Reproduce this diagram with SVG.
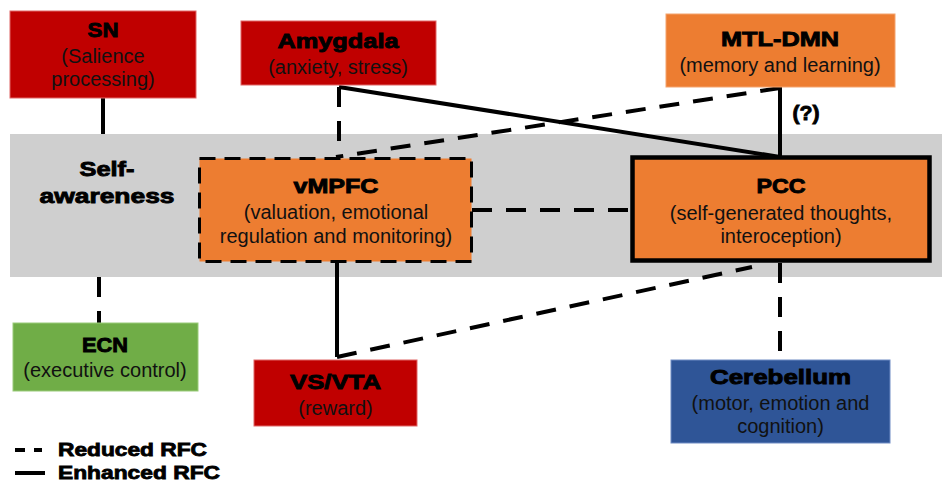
<svg xmlns="http://www.w3.org/2000/svg" width="942" height="483" viewBox="0 0 942 483">
  <style>
    .t { font-family: "Liberation Sans", Arial, sans-serif; font-weight: bold; font-size: 21px; fill: #000; stroke: #000; stroke-width: 0.9; text-anchor: middle; }
    .s { font-family: "Liberation Sans", Arial, sans-serif; font-size: 20px; fill: #111; text-anchor: middle; }
    .lg { font-family: "Liberation Sans", Arial, sans-serif; font-weight: bold; font-size: 18px; fill: #000; stroke: #000; stroke-width: 0.8; }
    .red { fill: #C00000; stroke: #E06666; stroke-width: 1; }
    .orange { fill: #ED7D31; stroke: #F4A46E; stroke-width: 1; }
    .green { fill: #70AD47; stroke: #9ACB7A; stroke-width: 1; }
    .blue { fill: #2F5597; stroke: #6F8CC4; stroke-width: 1; }
    .solid { fill: none; stroke: #000; stroke-width: 4; }
    .dash { fill: none; stroke: #000; stroke-width: 4; stroke-dasharray: 20 14; }
  </style>

  <!-- self-awareness band -->
  <rect id="band" x="10" y="134" width="932" height="143" fill="#CFCFCF"/>

  <!-- connectors -->
  <g id="connectors">
    <line class="solid" x1="103" y1="98" x2="103" y2="134"/>
    <line class="dash" x1="99" y1="277" x2="99" y2="323"/>
    <line class="dash" x1="339" y1="87" x2="339" y2="157"/>
    <line class="solid" x1="339" y1="87" x2="780" y2="157"/>
    <line class="solid" x1="780" y1="87" x2="780" y2="157"/>
    <line class="dash" x1="780" y1="88" x2="336" y2="157"/>
    <line class="dash" x1="472" y1="210" x2="631" y2="210"/>
    <line class="solid" x1="337" y1="263" x2="337" y2="357"/>
    <line class="dash" x1="337" y1="357" x2="752" y2="267"/>
    <line class="dash" x1="780" y1="263" x2="780" y2="360"/>
  </g>

  <g id="self-awareness">
    <text class="t" x="107" y="176" textLength="55" lengthAdjust="spacingAndGlyphs">Self-</text>
    <text class="t" x="107" y="203" textLength="135" lengthAdjust="spacingAndGlyphs">awareness</text>
  </g>

  <g id="sn">
    <rect class="red" x="10" y="11" width="186" height="87"/>
    <text class="t" x="103" y="37" textLength="31" lengthAdjust="spacingAndGlyphs">SN</text>
    <text class="s" x="103" y="63">(Salience</text>
    <text class="s" x="103" y="86">processing)</text>
  </g>

  <g id="amygdala">
    <rect class="red" x="241" y="21" width="195" height="64"/>
    <text class="t" x="338" y="48" textLength="121" lengthAdjust="spacingAndGlyphs">Amygdala</text>
    <text class="s" x="338" y="74">(anxiety, stress)</text>
  </g>

  <g id="mtl-dmn">
    <rect class="orange" x="666" y="14" width="229" height="73"/>
    <text class="t" x="780" y="46" textLength="118" lengthAdjust="spacingAndGlyphs">MTL-DMN</text>
    <text class="s" x="780" y="72">(memory and learning)</text>
    <text class="t" x="806" y="120" font-size="18" textLength="27" lengthAdjust="spacingAndGlyphs">(?)</text>
  </g>

  <g id="vmpfc">
    <rect x="199.5" y="158.5" width="272" height="103" fill="#ED7D31" stroke="#000" stroke-width="3" stroke-dasharray="16 9"/>
    <text class="t" x="336" y="193" textLength="85" lengthAdjust="spacingAndGlyphs">vMPFC</text>
    <text class="s" x="336" y="219">(valuation, emotional</text>
    <text class="s" x="336" y="243">regulation and monitoring)</text>
  </g>

  <g id="pcc">
    <rect x="632.5" y="157.5" width="297" height="103" fill="#ED7D31" stroke="#000" stroke-width="4.5"/>
    <text class="t" x="781" y="193" textLength="49" lengthAdjust="spacingAndGlyphs">PCC</text>
    <text class="s" x="781" y="220">(self-generated thoughts,</text>
    <text class="s" x="781" y="243">interoception)</text>
  </g>

  <g id="ecn">
    <rect class="green" x="13" y="323" width="185" height="68"/>
    <text class="t" x="105" y="352" textLength="46" lengthAdjust="spacingAndGlyphs">ECN</text>
    <text class="s" x="105" y="377">(executive control)</text>
  </g>

  <g id="vs-vta">
    <rect class="red" x="254" y="360" width="163" height="66"/>
    <text class="t" x="335.5" y="389" textLength="91" lengthAdjust="spacingAndGlyphs">VS/VTA</text>
    <text class="s" x="335.5" y="415">(reward)</text>
  </g>

  <g id="cerebellum">
    <rect class="blue" x="671" y="360" width="219" height="83"/>
    <text class="t" x="780.5" y="384" textLength="141" lengthAdjust="spacingAndGlyphs">Cerebellum</text>
    <text class="s" x="780.5" y="410">(motor, emotion and</text>
    <text class="s" x="780.5" y="433">cognition)</text>
  </g>

  <!-- legend -->
  <g id="legend">
    <line x1="15" y1="450" x2="25" y2="450" stroke="#000" stroke-width="4"/>
    <line x1="34" y1="450" x2="42" y2="450" stroke="#000" stroke-width="4"/>
    <text class="lg" x="58" y="456" textLength="149" lengthAdjust="spacingAndGlyphs">Reduced RFC</text>
    <line x1="15" y1="473" x2="45" y2="473" stroke="#000" stroke-width="4"/>
    <text class="lg" x="58" y="479" textLength="162" lengthAdjust="spacingAndGlyphs">Enhanced RFC</text>
  </g>
</svg>
